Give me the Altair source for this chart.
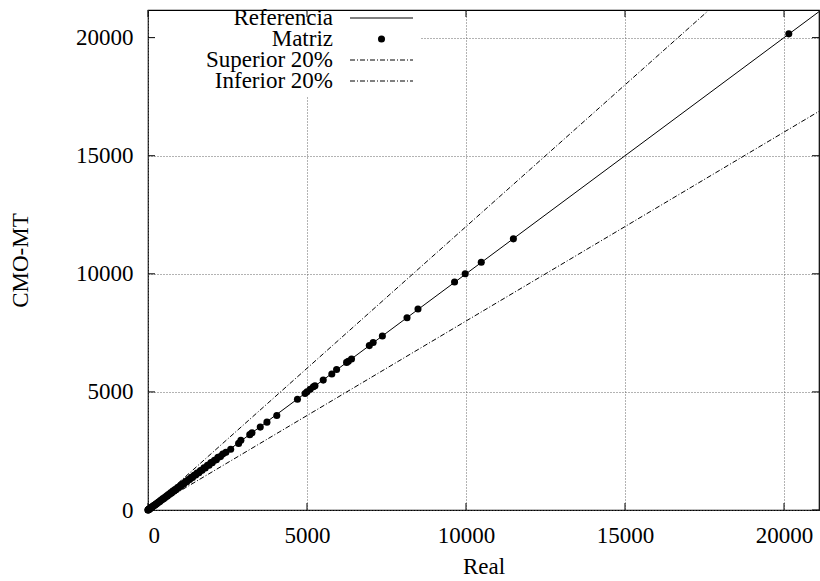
import altair as alt
import pandas as pd

# Data (Real vs CMO-MT)
real = [20150, 11490, 10480, 9975, 9640, 8490, 8145, 7370, 7080, 6960, 6400, 6300, 6245,
        5930, 5780, 5510, 5250, 5200, 5100, 5000, 4940, 4700, 4050, 3740, 3530, 3270, 3200,
        2920, 2850, 2600, 2450, 2350, 2280, 2200, 2150, 2090, 2020, 1980, 1920, 1870, 1800,
        1760, 1700, 1650, 1600, 1540, 1500, 1450, 1400, 1360, 1310, 1270, 1220, 1180, 1130,
        1090, 1050, 1010, 970, 930, 890, 850, 820, 780, 740, 710, 680, 640, 610, 580, 550,
        520, 490, 460, 430, 400, 370, 345, 320, 295, 270, 250, 230, 210, 190, 170, 150, 130,
        115, 100, 85, 70, 55, 45, 35, 25, 15, 8, 3, 0]
cmo = [20160, 11480, 10490, 10000, 9650, 8510, 8140, 7370, 7090, 6960, 6390, 6300, 6250,
       5950, 5760, 5500, 5260, 5220, 5110, 5010, 4930, 4690, 4000, 3720, 3510, 3270, 3190,
       2950, 2820, 2570, 2440, 2370, 2260, 2230, 2130, 2110, 2000, 2010, 1900, 1890, 1780,
       1790, 1680, 1670, 1580, 1560, 1480, 1470, 1380, 1380, 1290, 1290, 1200, 1200, 1110,
       1110, 1030, 1030, 950, 950, 870, 870, 800, 800, 720, 725, 665, 655, 595, 595, 540,
       530, 480, 470, 420, 410, 360, 352, 313, 300, 265, 255, 225, 214, 186, 174, 147, 133,
       112, 102, 83, 72, 54, 46, 34, 26, 15, 8, 3, 0]

xticks = [0, 5000, 10000, 15000, 20000]
yticks = [0, 5000, 10000, 15000, 20000]

XMAX = 21100
YMAX = 21170
W, H = 671, 500

series_names = ["Referencia", "Superior 20%", "Inferior 20%"]
series_factor = [1.0, 1.2, 0.8]

pts = pd.DataFrame({"Real": real, "CMO": cmo})
lines = pd.DataFrame({
    "serie": [s for s in series_names for _ in range(2)],
    "x": [v for _ in series_names for v in (0, XMAX)],
    "y": [v for f in series_factor for v in (0, XMAX * f)],
})
xt = pd.DataFrame({"t": xticks})
yt = pd.DataFrame({"t": yticks})

FONT = "'Liberation Serif', 'DejaVu Serif', serif"
FS = 23

xs = alt.Scale(domain=[0, XMAX], nice=False, zero=False)
ys = alt.Scale(domain=[0, YMAX], nice=False, zero=False)

xaxis = alt.Axis(values=xticks, title="Real", labelPadding=14, titlePadding=8,
                 grid=True, format="d", labelFont=FONT, titleFont=FONT)
yaxis = alt.Axis(values=yticks, title="CMO-MT", labelPadding=15, grid=True, format="d",
                 titleX=-128, titleY=H / 2, titleAngle=-90, titleBaseline="middle",
                 titleAlign="center", labelFont=FONT, titleFont=FONT)

base_pts = alt.Chart(pts).mark_circle(size=50, color="black", opacity=1).encode(
    x=alt.X("Real:Q", scale=xs, axis=xaxis),
    y=alt.Y("CMO:Q", scale=ys, axis=yaxis),
)

legend_box = alt.Chart(pd.DataFrame({"a": [0]})).mark_rect(color="white").encode(
    x=alt.value(1), x2=alt.value(272), y=alt.value(1), y2=alt.value(86)
)

ref_line = alt.Chart(lines[lines.serie == "Referencia"]).mark_line(
    color="black", strokeWidth=1, clip=True
).encode(x=alt.X("x:Q", scale=xs), y=alt.Y("y:Q", scale=ys))

dd_lines = alt.Chart(lines[lines.serie != "Referencia"]).mark_line(
    color="black", strokeWidth=1, strokeDash=[5, 2, 1, 2], clip=True
).encode(x=alt.X("x:Q", scale=xs), y=alt.Y("y:Q", scale=ys), detail="serie:N")

TL = 7
tick_b = alt.Chart(xt).mark_rule(color="black").encode(
    x=alt.X("t:Q", scale=xs), y=alt.value(H), y2=alt.value(H - TL))
tick_t = alt.Chart(xt).mark_rule(color="black").encode(
    x=alt.X("t:Q", scale=xs), y=alt.value(0), y2=alt.value(TL))
tick_l = alt.Chart(yt).mark_rule(color="black").encode(
    y=alt.Y("t:Q", scale=ys), x=alt.value(0), x2=alt.value(TL))
tick_r = alt.Chart(yt).mark_rule(color="black").encode(
    y=alt.Y("t:Q", scale=ys), x=alt.value(W - TL), x2=alt.value(W))

legend_labels = ["Referencia", "Matriz", "Superior 20%", "Inferior 20%"]
row_y = [8, 29, 50, 71]
TX = 185
L0, L1 = 202, 265
legend_layers = []
for lab, ry in zip(legend_labels, row_y):
    legend_layers.append(
        alt.Chart(pd.DataFrame({"lab": [lab]})).mark_text(
            align="right", baseline="middle", font=FONT, fontSize=FS, color="black"
        ).encode(text="lab:N", x=alt.value(TX), y=alt.value(ry))
    )
legend_layers.append(
    alt.Chart(pd.DataFrame({"a": [0]})).mark_rule(color="black", strokeWidth=1).encode(
        x=alt.value(L0), x2=alt.value(L1), y=alt.value(row_y[0]))
)
legend_layers.append(
    alt.Chart(pd.DataFrame({"a": [0]})).mark_circle(size=50, color="black", opacity=1).encode(
        x=alt.value((L0 + L1) / 2), y=alt.value(row_y[1]))
)
for ry in row_y[2:]:
    legend_layers.append(
        alt.Chart(pd.DataFrame({"a": [0]})).mark_rule(
            color="black", strokeWidth=1, strokeDash=[5, 2, 1, 2]).encode(
            x=alt.value(L0), x2=alt.value(L1), y=alt.value(ry))
    )

chart = alt.layer(
    base_pts.mark_circle(size=0, opacity=0),
    legend_box, tick_b, tick_t, tick_l, tick_r, ref_line, dd_lines, base_pts,
    *legend_layers
).properties(
    width=W, height=H,
    autosize=alt.AutoSizeParams(type="none"),
    padding={"left": 148, "top": 10, "right": 1, "bottom": 71},
    background="white",
).configure_view(
    stroke="black", strokeWidth=1.2
).configure_axis(
    domain=False, ticks=False, tickSize=0,
    gridColor="#666", gridDash=[1, 2], gridWidth=1, gridOpacity=1,
    labelFont=FONT, labelFontSize=FS, labelColor="black",
    titleFont=FONT, titleFontSize=FS, titleFontWeight="normal", titleColor="black",
).configure_text(font=FONT)

chart.save("out.html", embed_options={"renderer": "svg", "actions": False})
